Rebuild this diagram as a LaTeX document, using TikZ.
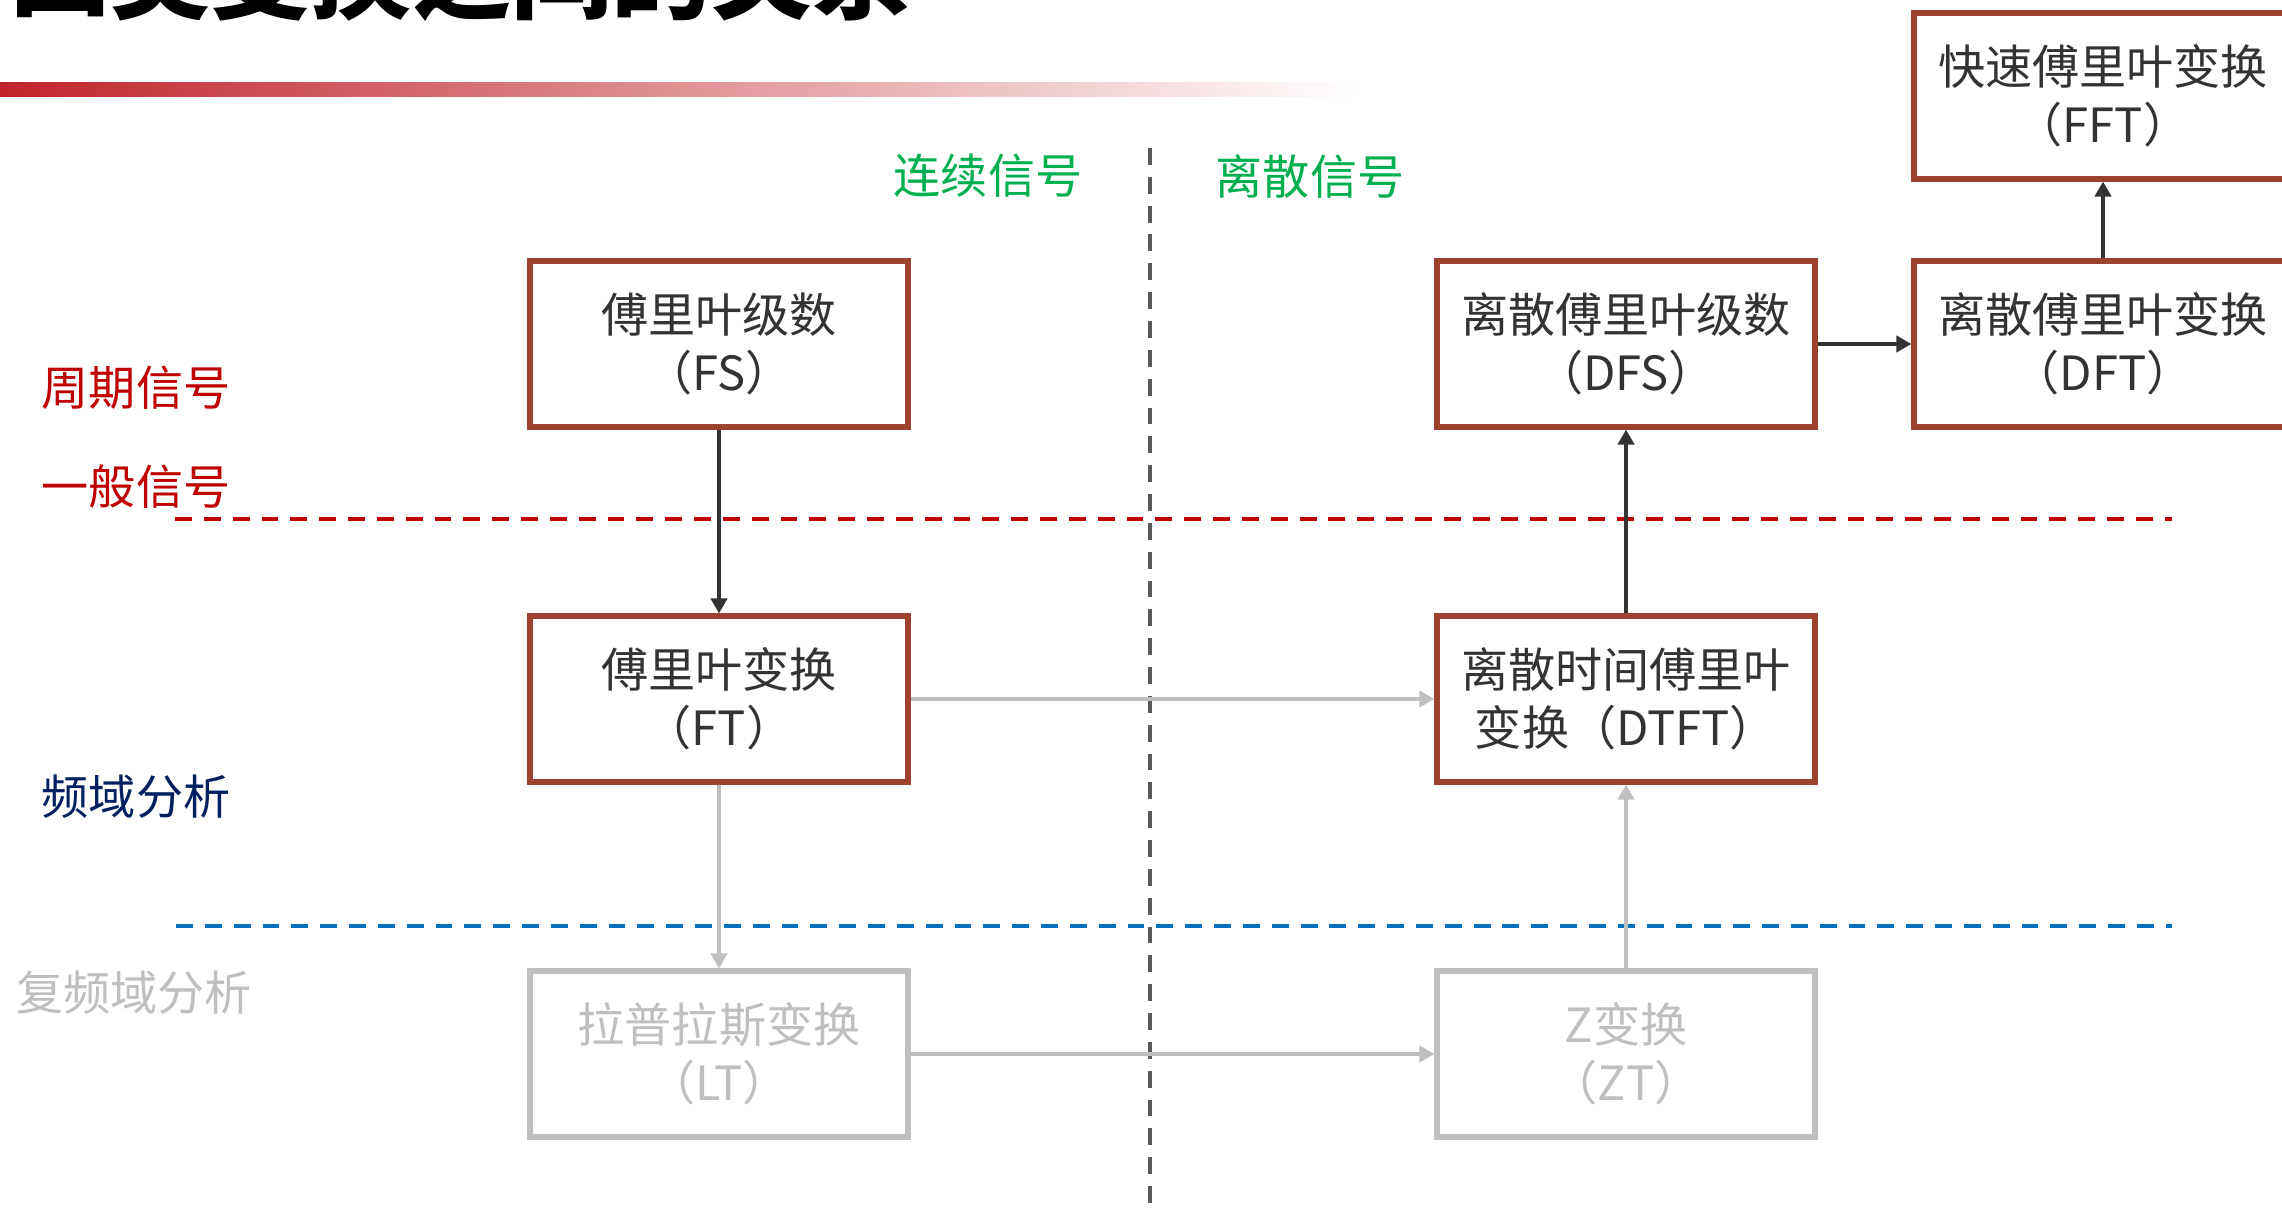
\documentclass[tikz,border=0pt]{standalone}
\usepackage{fontspec}
\setmainfont{Noto Sans CJK SC}
\usetikzlibrary{arrows.meta}
\definecolor{boxred}{RGB}{158,65,45}
\definecolor{textdark}{RGB}{51,51,51}
\definecolor{lightgray}{RGB}{191,191,191}
\definecolor{labelred}{RGB}{192,0,0}
\definecolor{navy}{RGB}{0,32,96}
\definecolor{labelgreen}{RGB}{0,176,80}
\definecolor{dashblue}{RGB}{0,112,192}
\definecolor{dashgray}{RGB}{89,89,89}
\definecolor{barred}{RGB}{192,36,42}
\newcommand\boxfont{\fontsize{13.4pt}{16.5pt}\selectfont}
\newcommand\titlefont{\fontsize{28.5pt}{32pt}\selectfont\bfseries}
\begin{document}
\begin{tikzpicture}[x=0.01cm,y=-0.01cm,
  tbox/.style={draw=boxred, line width=1.7pt, minimum width=3.77cm, minimum height=1.65cm,
    inner sep=0pt, align=center, text=textdark, font=\boxfont, fill=white},
  gbox/.style={tbox, draw=lightgray, text=lightgray},
  lab/.style={inner sep=0pt, font=\boxfont},
  darr/.style={draw=textdark, line width=1.1pt, -{Triangle[length=4.3pt,width=4.6pt]}},
  garr/.style={draw=lightgray, line width=1.1pt, -{Triangle[length=4.3pt,width=4.6pt]}},
  dline/.style={line width=1.15pt, dash pattern=on 4.8pt off 3.4pt}
]
\useasboundingbox (0,0) rectangle (2282,1210);
\fill[white] (0,0) rectangle (2282,1210);

% title (cut by top edge) and gradient bar
\node[anchor=base east, inner sep=0pt, font=\titlefont, text=black] (title) at (913,12) {四类变换之间的关系};
\shade[left color=barred, right color=white] (0,83) rectangle (1360,97);

% separator lines
\draw[dline, draw=dashgray] (1150,148) -- (1150,1210);
\draw[dline, draw=labelred] (175,519) -- (2172,519);
\draw[dline, draw=dashblue] (176,926) -- (2172,926);

% labels
\node[lab, text=labelgreen] (cont) at (988,176) {连续信号};
\node[lab, text=labelgreen] (disc) at (1310,177) {离散信号};
\node[lab, text=labelred] (period) at (136,388) {周期信号};
\node[lab, text=labelred] (general) at (136,487) {一般信号};
\node[lab, text=navy] (freq) at (136,797) {频域分析};
\node[lab, text=lightgray] (cfreq) at (134,993) {复频域分析};

% boxes
\node[tbox] (fs) at (719,344) {傅里叶级数\\（FS）};
\node[tbox] (ft) at (719,699) {傅里叶变换\\（FT）};
\node[gbox] (lt) at (719,1054) {拉普拉斯变换\\（LT）};
\node[tbox] (dfs) at (1626,344) {离散傅里叶级数\\（DFS）};
\node[tbox] (dtft) at (1626,699) {离散时间傅里叶\\变换（DTFT）};
\node[gbox] (zt) at (1626,1054) {Z变换\\（ZT）};
\node[tbox] (dft) at (2103,344) {离散傅里叶变换\\（DFT）};
\node[tbox] (fft) at (2103,96) {快速傅里叶变换\\（FFT）};

% connectors
\draw[darr] (fs) -- (ft);
\draw[garr] (ft) -- (dtft);
\draw[garr] (ft) -- (lt);
\draw[garr] (lt) -- (zt);
\draw[garr] (zt) -- (dtft);
\draw[darr] (dtft) -- (dfs);
\draw[darr] (dfs) -- (dft);
\draw[darr] (dft) -- (fft);
\end{tikzpicture}
\end{document}
